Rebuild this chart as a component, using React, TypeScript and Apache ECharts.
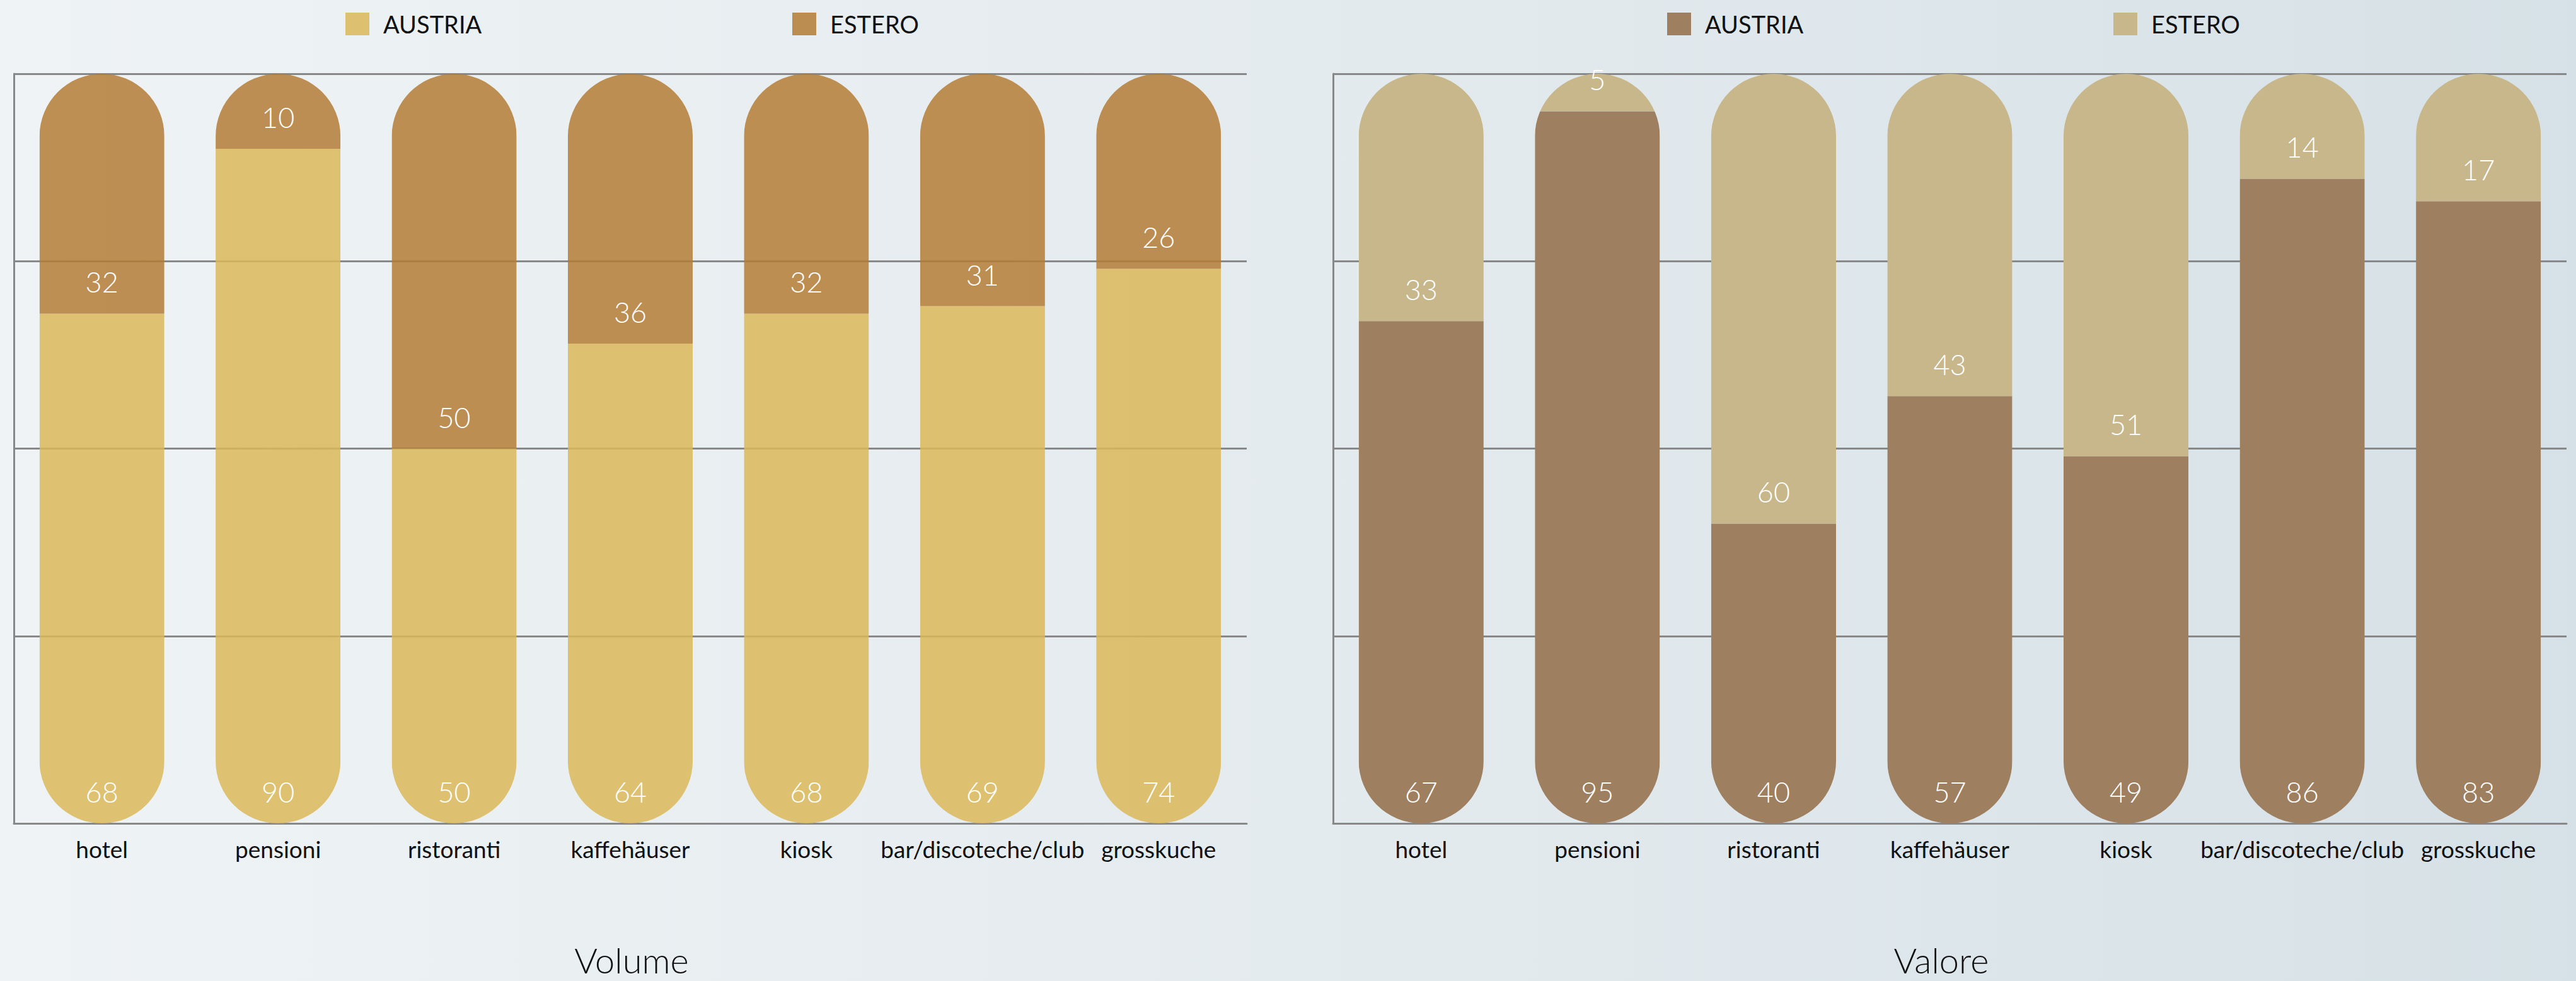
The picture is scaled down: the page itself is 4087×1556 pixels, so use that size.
import React, { useEffect, useRef } from "react";
import * as echarts from "echarts";

const categories = ["hotel", "pensioni", "ristoranti", "kaffehäuser", "kiosk", "bar/discoteche/club", "grosskuche"];
const volumeAustria = [68, 90, 50, 64, 68, 69, 74];
const volumeEstero = [32, 10, 50, 36, 32, 31, 26];
const valoreAustria = [67, 95, 40, 57, 49, 86, 83];
const valoreEstero = [33, 5, 60, 43, 51, 14, 17];
const yMin = 0;
const yMax = 100;
const yInterval = 25;
const legendNames = ["AUSTRIA", "ESTERO"];
const chartTitles = ["Volume", "Valore"];

const FONT = "Lato, 'Open Sans', sans-serif";

function makeRender(fill: string, opacity: number) {
  return (params: any, api: any) => {
    const i = api.value(0);
    const lo = api.value(1);
    const hi = api.value(2);
    const total = api.value(3);
    const shown = api.value(4);
    const band = api.size([1, 0])[0];
    const w = band * 0.709;
    const base = api.coord([i, 0]);
    const top = api.coord([i, total]);
    const pLo = api.coord([i, lo]);
    const pHi = api.coord([i, hi]);
    const cx = base[0];
    return {
      type: "group",
      children: [
        {
          type: "rect",
          shape: { x: cx - w / 2, y: pHi[1], width: w, height: pLo[1] - pHi[1] },
          style: { fill, opacity },
          clipPath: {
            type: "rect",
            shape: { x: cx - w / 2, y: top[1], width: w, height: base[1] - top[1], r: w / 2 },
          },
        },
        {
          type: "text",
          x: cx,
          y: pLo[1] - 50,
          z2: 10,
          style: {
            text: String(shown),
            fill: "#ffffff",
            fontSize: 45,
            fontFamily: FONT,
            fontWeight: 300,
            align: "center",
            verticalAlign: "middle",
          },
        },
      ],
    };
  };
}

function seriesData(a: number[], e: number[], part: number) {
  return a.map((av, i) => {
    const total = av + e[i];
    return part === 0 ? [i, 0, av, total, av] : [i, av, total, total, e[i]];
  });
}

export default function App() {
  const ref = useRef<HTMLDivElement>(null);
  useEffect(() => {
    if (!ref.current) return;
    const chart = echarts.init(ref.current, undefined, { renderer: "svg" });

    const grids = [
      { left: 22, right: 4087 - 1978, top: 117, bottom: 1556 - 1306 },
      { left: 2115, right: 4087 - 4072, top: 117, bottom: 1556 - 1306 },
    ];
    const xAxes = grids.map((_, gi) => ({
      type: "category",
      gridIndex: gi,
      data: categories,
      axisLine: { show: true, lineStyle: { color: "#888888", width: 3 } },
      axisTick: { show: false },
      axisLabel: { interval: 0, color: "#111111", fontSize: 37, fontFamily: FONT, margin: 22 },
    }));
    const yAxes = grids.map((_, gi) => ({
      type: "value",
      gridIndex: gi,
      min: yMin,
      max: yMax,
      interval: yInterval,
      axisLine: { show: true, lineStyle: { color: "#888888", width: 3 } },
      axisTick: { show: false },
      axisLabel: { show: false },
      splitLine: { show: true, lineStyle: { color: "#888888", width: 3 } },
    }));

    const sets = [
      { title: chartTitles[0], a: volumeAustria, e: volumeEstero, colors: ["#DDC070", "#BC8D51"], fills: ["#DBB859", "#B47C36"], opacity: 0.85 },
      { title: chartTitles[1], a: valoreAustria, e: valoreEstero, colors: ["#9E7F60", "#C7B78B"], fills: ["#9E7F60", "#C7B78B"], opacity: 1 },
    ];

    const series: any[] = [];
    sets.forEach((s, gi) => {
      [0, 1].forEach((part) => {
        series.push({
          type: "custom",
          name: s.title + "|" + legendNames[part],
          xAxisIndex: gi,
          yAxisIndex: gi,
          itemStyle: { color: s.colors[part] },
          renderItem: makeRender(s.fills[part], s.opacity),
          encode: { x: 0, y: [1, 2] },
          data: seriesData(s.a, s.e, part),
        });
      });
    });

    const legendLefts = [[548, 1257], [2645, 3353]];
    const legends: any[] = [];
    sets.forEach((s, gi) => {
      [0, 1].forEach((part) => {
        legends.push({
          data: [s.title + "|" + legendNames[part]],
          left: legendLefts[gi][part],
          top: 19,
          padding: 0,
          icon: "rect",
          itemWidth: 38,
          itemHeight: 36,
          selectedMode: false,
          formatter: (n: string) => n.split("|")[1],
          textStyle: { color: "#111111", fontSize: 38, fontFamily: FONT, lineHeight: 36, padding: [0, 0, 0, 17] },
        });
      });
    });

    const titleStyle = { fill: "#111111", fontSize: 56, fontFamily: FONT, fontWeight: 300, align: "center", verticalAlign: "middle", lineHeight: 58 };

    chart.setOption({
      animation: false,
      backgroundColor: "transparent",
      grid: grids,
      xAxis: xAxes,
      yAxis: yAxes,
      legend: legends,
      series,
      graphic: [
        { type: "text", x: 1002, y: 1522, style: { ...titleStyle, text: chartTitles[0] } },
        { type: "text", x: 3080, y: 1522, style: { ...titleStyle, text: chartTitles[1] } },
      ],
    });
    return () => chart.dispose();
  }, []);

  return (
    <div
      ref={ref}
      style={{
        position: "fixed",
        left: 0,
        top: 0,
        width: 4087,
        height: 1556,
        background: "linear-gradient(to right, #EFF3F5 0%, #E4EBEE 50%, #D6E1E7 100%)",
      }}
    />
  );
}
